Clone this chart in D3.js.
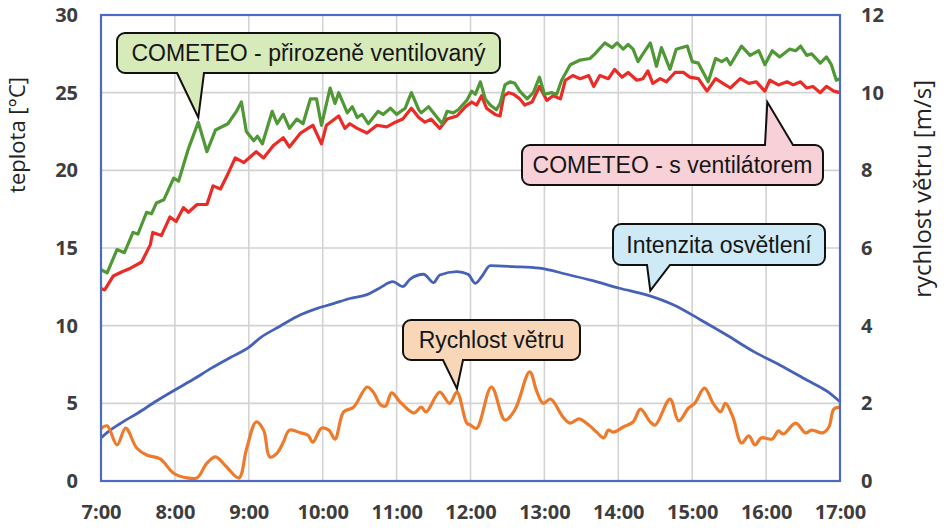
<!DOCTYPE html>
<html>
<head>
<meta charset="utf-8">
<script src="https://cdn.jsdelivr.net/npm/d3@7"></script>
<style>
  html, body { margin: 0; padding: 0; background: #ffffff; }
  svg { display: block; }
</style>
</head>
<body>
<svg id="chart" width="944" height="531"></svg>
<script>
// ---------------- DATA ----------------
// time in minutes after 7:00
const xTickLabels = ["7:00","8:00","9:00","10:00","11:00","12:00","13:00","14:00","15:00","16:00","17:00"];
const leftTicks = [0, 5, 10, 15, 20, 25, 30];
const rightTicks = [0, 2, 4, 6, 8, 10, 12];

// COMETEO - přirozeně ventilovaný (°C)
const greenTimes = [0,5,13,19,26,30,37,41,45,51,59,63,71,79,86,93,103,110,114,118,124,127,131,139,143,148,153,159,164,170,175,179,186,190,193,200,204,208,212,217,225,229,235,240,247,252,258,260,266,271,277,281,286,290,297,301,304,308,312,316,321,324,328,332,336,340,346,351,356,360,366,370,374,381,389,397,401,409,415,419,424,428,432,436,440,446,451,455,462,467,476,480,485,493,499,504,508,511,520,527,534,539,545,551,559,564,568,573,577,584,589,593,597,600];
const greenValues = [13.6,13.4,14.9,14.7,16.0,15.9,17.3,17.2,17.9,18.1,19.5,19.3,21.4,23.1,21.2,22.6,23.0,23.8,24.4,22.5,21.9,22.2,21.7,23.8,23.0,23.6,22.7,23.3,23.0,24.6,24.6,22.9,25.3,24.3,25.0,23.7,24.1,23.4,23.6,23.0,23.8,23.6,24.0,23.6,24.0,25.0,23.9,23.7,24.1,23.6,23.0,23.8,23.7,23.9,24.5,25.1,24.9,25.7,24.6,24.2,23.9,24.3,25.5,25.7,25.6,25.1,24.6,25.0,26.0,24.9,25.0,24.9,25.8,26.8,27.1,27.2,27.5,28.2,27.9,28.2,27.8,28.1,27.8,27.0,27.5,28.2,26.7,27.9,26.5,27.8,28.0,27.0,26.9,25.7,27.2,27.0,27.2,26.8,28.0,27.4,27.7,26.8,27.7,27.3,27.8,27.7,28.0,27.4,27.5,26.9,27.3,26.8,25.8,25.9];

// COMETEO - s ventilátorem (°C)
const redTimes = [0,3,10,18,24,33,40,42,49,56,61,67,71,78,86,91,97,102,109,116,126,132,140,148,153,162,168,172,179,183,193,198,202,208,216,224,232,239,245,252,258,263,268,275,281,289,296,301,305,309,313,320,324,327,331,335,340,344,350,356,362,367,373,377,383,389,396,400,405,412,417,423,428,435,440,444,448,454,459,466,473,478,485,492,499,505,511,519,526,532,539,543,550,557,562,568,573,578,584,589,595,600];
const redValues = [12.4,12.3,13.2,13.5,13.7,14.1,15.2,16.0,15.8,17.0,16.7,17.6,17.3,17.8,17.8,19.0,18.8,19.6,20.8,20.5,21.2,20.8,21.6,22.1,21.5,22.4,22.7,22.9,21.7,22.9,23.5,22.7,23.0,22.7,22.4,22.9,22.8,23.1,23.3,24.0,23.4,23.1,23.3,22.7,23.3,23.5,24.1,24.4,24.2,24.8,24.0,23.6,23.5,24.8,25.0,24.9,24.6,24.2,24.4,25.4,24.5,24.8,24.6,25.8,26.1,25.9,26.1,25.4,26.1,25.9,26.5,26.0,26.3,25.8,25.9,26.4,25.6,25.9,25.7,26.3,26.3,26.0,25.9,25.1,25.9,25.6,25.3,25.9,25.6,25.7,25.1,25.8,25.5,25.7,25.5,25.7,25.3,25.4,25.0,25.4,25.1,25.0];

// Intenzita osvětlení (plotted on left axis scale)
const lightTimes = [0,8,15,30,45,60,75,90,105,120,129,145,162,175,188,202,216,226,237,245,251,262,270,275,289,298,304,309,316,335,356,378,400,421,443,465,487,508,530,551,573,590,600];
const lightValues = [2.77,3.3,3.67,4.38,5.15,5.86,6.55,7.28,7.95,8.6,9.2,9.95,10.7,11.1,11.4,11.75,12.0,12.41,12.83,12.51,13.0,13.31,12.77,13.26,13.48,13.31,12.73,13.15,13.86,13.8,13.7,13.31,12.88,12.41,11.98,11.33,10.37,9.4,8.33,7.47,6.5,5.75,5.1];

// Rychlost větru (m/s, right axis)
const windTimes = [0,5,13,20,29,37,48,59,70,78,86,93,102,112,118,126,132,137,143,148,153,162,168,172,179,185,190,197,205,216,221,227,231,236,243,254,260,264,275,283,289,297,300,305,317,328,336,348,354,359,365,375,381,388,396,403,408,412,416,424,432,438,446,450,462,469,477,482,490,497,503,507,513,520,526,531,536,545,550,554,564,572,577,586,591,595,600];
const windValues = [1.35,1.42,0.93,1.36,0.85,0.67,0.57,0.2,0.08,0.08,0.46,0.62,0.36,0.08,0.8,1.52,1.31,0.62,0.72,1.0,1.31,1.24,1.18,1.0,1.36,1.31,1.08,1.78,1.9,2.42,2.29,1.96,1.93,2.27,2.03,1.75,1.9,1.78,2.29,2.0,2.29,1.49,1.44,1.36,2.42,1.57,1.83,2.81,2.29,2.0,2.11,1.65,1.49,1.6,1.44,1.24,1.11,1.31,1.26,1.39,1.52,1.85,1.52,1.44,2.11,1.55,1.88,2.0,2.39,2.0,1.78,2.0,1.65,0.98,1.16,0.93,1.11,1.08,1.29,1.21,1.49,1.24,1.31,1.24,1.39,1.85,1.9];

// callout labels
const calloutTexts = ["COMETEO - přirozeně ventilovaný", "COMETEO - s ventilátorem", "Intenzita osvětlení", "Rychlost větru"];

// ---------------- CHART ----------------
const W = 944, H = 531;
const m = { left: 101, right: 104, top: 15, bottom: 50 };
const svg = d3.select("#chart");

const x = d3.scaleLinear().domain([0, 600]).range([m.left, W - m.right]);
const yL = d3.scaleLinear().domain([0, 30]).range([H - m.bottom, m.top]);
const yR = d3.scaleLinear().domain([0, 12]).range([H - m.bottom, m.top]);

const hourTicks = xTickLabels.map((d, i) => i * 60);

// gridlines
const grid = svg.append("g").attr("stroke", "#d3d3d3").attr("stroke-width", 1.6);
grid.selectAll("line.v").data(hourTicks.slice(1, -1)).join("line")
  .attr("x1", d => x(d)).attr("x2", d => x(d))
  .attr("y1", yL(0)).attr("y2", yL(30));
grid.selectAll("line.h").data(leftTicks.slice(1, -1)).join("line")
  .attr("x1", x(0)).attr("x2", x(600))
  .attr("y1", d => yL(d)).attr("y2", d => yL(d));

// axes
const tickFont = "'Open Sans', 'DejaVu Sans', sans-serif";
function styleAxis(g) {
  g.select(".domain").remove();
  g.selectAll("text").attr("font-family", tickFont).attr("font-size", 20)
    .attr("font-weight", 700).attr("fill", "#3d3d3d");
}
svg.append("g").attr("transform", `translate(0,${yL(0)})`)
  .call(d3.axisBottom(x).tickValues(hourTicks).tickFormat((d, i) => xTickLabels[i]).tickSize(0).tickPadding(24))
  .call(styleAxis);
svg.append("g").attr("transform", `translate(${x(0)},0)`)
  .call(d3.axisLeft(yL).tickValues(leftTicks).tickFormat(d3.format("d")).tickSize(0).tickPadding(23))
  .call(styleAxis);
svg.append("g").attr("transform", `translate(${x(600)},0)`)
  .call(d3.axisRight(yR).tickValues(rightTicks).tickFormat(d3.format("d")).tickSize(0).tickPadding(21))
  .call(styleAxis);

// axis titles
const titleFont = "'Open Sans', 'DejaVu Sans', sans-serif";
svg.append("text").attr("transform", `translate(25,77) rotate(-90)`)
  .attr("text-anchor", "end").attr("font-family", titleFont).attr("font-size", 22)
  .attr("fill", "#222").text("teplota [°C]");
svg.append("text").attr("transform", `translate(931,80) rotate(-90)`)
  .attr("text-anchor", "end").attr("font-family", titleFont).attr("font-size", 24)
  .attr("fill", "#222").text("rychlost větru [m/s]");

// series
const lineL = (times, curve) => d3.line().curve(curve).x((d, i) => x(times[i])).y(d => yL(d));
const lineR = (times, curve) => d3.line().curve(curve).x((d, i) => x(times[i])).y(d => yR(d));

svg.append("path").datum(lightValues).attr("d", lineL(lightTimes, d3.curveMonotoneX))
  .attr("fill", "none").attr("stroke", "#4662b8").attr("stroke-width", 2.8).attr("stroke-linejoin", "round");
svg.append("path").datum(windValues).attr("d", lineR(windTimes, d3.curveCatmullRom.alpha(0.5)))
  .attr("fill", "none").attr("stroke", "#ee7a2c").attr("stroke-width", 3.2).attr("stroke-linejoin", "round");
svg.append("path").datum(redValues).attr("d", lineL(redTimes, d3.curveLinear))
  .attr("fill", "none").attr("stroke", "#ea2b26").attr("stroke-width", 3.2).attr("stroke-linejoin", "round");
svg.append("path").datum(greenValues).attr("d", lineL(greenTimes, d3.curveLinear))
  .attr("fill", "none").attr("stroke", "#4f9835").attr("stroke-width", 3.2).attr("stroke-linejoin", "round");

// plot border
svg.append("rect").attr("x", x(0)).attr("y", yL(30))
  .attr("width", x(600) - x(0)).attr("height", yL(0) - yL(30))
  .attr("fill", "none").attr("stroke", "#4a6cc4").attr("stroke-width", 2.2);

// callouts: tip at data coordinates, box in pixels
function calloutPath(x0, y0, x1, y1, r, side, b0, b1, tx, ty) {
  if (side === "bottom") {
    return `M${x0 + r},${y0} H${x1 - r} A${r},${r} 0 0 1 ${x1},${y0 + r} V${y1 - r} A${r},${r} 0 0 1 ${x1 - r},${y1}` +
      ` H${b1} L${tx},${ty} L${b0},${y1} H${x0 + r} A${r},${r} 0 0 1 ${x0},${y1 - r} V${y0 + r} A${r},${r} 0 0 1 ${x0 + r},${y0} Z`;
  }
  return `M${x0 + r},${y0} H${b0} L${tx},${ty} L${b1},${y0} H${x1 - r} A${r},${r} 0 0 1 ${x1},${y0 + r} V${y1 - r} A${r},${r} 0 0 1 ${x1 - r},${y1}` +
    ` H${x0 + r} A${r},${r} 0 0 1 ${x0},${y1 - r} V${y0 + r} A${r},${r} 0 0 1 ${x0 + r},${y0} Z`;
}
const callouts = [
  { text: calloutTexts[0], tipT: 79, tipV: 23.4, box: [117, 33, 500, 73], side: "bottom", base: [177, 204], fill: "#d7eab9" },
  { text: calloutTexts[1], tipT: 541, tipV: 24.4, box: [522, 145, 823, 185], side: "top", base: [765, 793], fill: "#f8d0d7" },
  { text: calloutTexts[2], tipT: 446, tipV: 12.25, box: [613, 224, 825, 265], side: "bottom", base: [647, 670], fill: "#cdeaf6" },
  { text: calloutTexts[3], tipT: 289, tipV: 5.95, box: [403, 320, 580, 360], side: "bottom", base: [443, 463], fill: "#f8d7b8" }
];
const cg = svg.append("g");
callouts.forEach(c => {
  const [x0, y0, x1, y1] = c.box;
  cg.append("path").attr("d", calloutPath(x0, y0, x1, y1, 8, c.side, c.base[0], c.base[1], x(c.tipT), yL(c.tipV)))
    .attr("fill", c.fill).attr("stroke", "#111").attr("stroke-width", 2).attr("stroke-linejoin", "miter");
  cg.append("text").attr("x", (x0 + x1) / 2).attr("y", (y0 + y1) / 2 + 8.3)
    .attr("text-anchor", "middle").attr("font-family", "'Liberation Sans', Arial, sans-serif")
    .attr("font-size", 23).attr("fill", "#151515").text(c.text);
});
</script>
</body>
</html>
